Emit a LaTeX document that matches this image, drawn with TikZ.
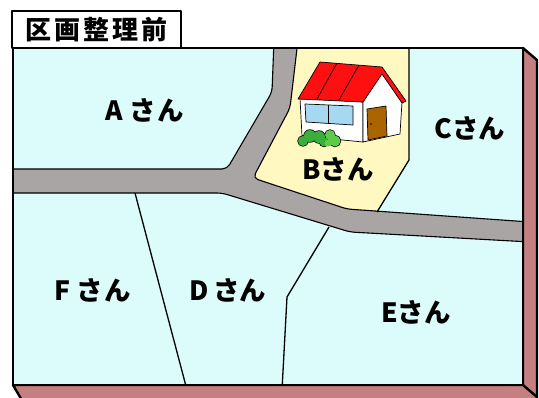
\documentclass[tikz,border=0pt]{standalone}
\usepackage{fontspec}
\usepackage{tikz}
\newfontfamily\jp{Noto Sans CJK JP}
\definecolor{lot}{HTML}{DCFCFC}
\definecolor{lotb}{HTML}{FFF8C0}
\definecolor{road}{HTML}{A9A5A5}
\definecolor{rim}{HTML}{C48080}
\definecolor{roof}{HTML}{FF1010}
\definecolor{glass}{HTML}{A6D8F2}
\definecolor{door}{HTML}{AA6400}
\definecolor{bush}{HTML}{3AAE3A}
\definecolor{bushl}{HTML}{5CCB4A}

\begin{document}
\begin{tikzpicture}[x=1pt,y=-1pt,line join=round,
  owner/.style={font=\jp\bfseries\fontsize{26.5}{26.5}\selectfont,inner sep=0pt},
  frame/.style={draw=black,line width=2.4pt},
  kerb/.style={draw=black,line width=1.1pt,rounded corners=5pt},
  plot/.style={draw=black,line width=1.3pt},
  thin/.style={draw=black,line width=0.7pt}]
  \useasboundingbox (0,0) rectangle (539,397);
  \begin{scope}
  \clip (0,0) rectangle (539,397);
  % board: thickness on the right and below
  \filldraw[fill=rim,frame] (13,385) -- (523,385) -- (523,48) -- (537,60)
    -- (537,409) -- (27,409) -- cycle;
  \draw[frame] (523,385) -- (537,397);
  \fill[lot] (13,48) rectangle (523,385);
  \begin{scope}
  \clip (13,48) rectangle (523,385);
  % lot B
  \fill[lotb] (298,40) -- (409,40) -- (409,160) -- (377,212) -- (347,209)
    -- (253,178) -- (290,108) -- cycle;
  % roads
  \fill[road,rounded corners=5pt] (5,169) -- (227,169) -- (272,92) -- (274,40) -- (298,40)
    -- (290,108) -- (253,178) -- (347,209) -- (530,222) -- (530,242)
    -- (350,232) -- (222,193) -- (5,193) -- cycle;
  \draw[kerb] (5,169) -- (227,169) -- (272,92) -- (274,40);
  \draw[kerb] (298,40) -- (290,108) -- (253,178) -- (347,209) -- (530,222);
  \draw[kerb] (5,193) -- (222,193) -- (350,232) -- (530,242);
  % lot boundaries
  \draw[plot] (409,40) -- (409,160) -- (377,212);
  \draw[plot] (135,193) -- (187,390);
  \draw[plot] (329,227) -- (287,297) -- (282,390);
  \end{scope}
  \draw[frame] (13,48) rectangle (523,385);
  \end{scope}
  % house on lot B
  \filldraw[fill=white,thin] (300,98) -- (363,102) -- (363,142) -- (302,136) -- cycle;
  \filldraw[fill=white,thin] (382,72) -- (402,102) -- (400,134) -- (363,142) -- (363,102) -- cycle;
  \filldraw[fill=glass,thin] (305,104) -- (353,106) -- (353,125) -- (306,122) -- cycle;
  \draw[thin] (328,105) -- (328,124);
  \filldraw[fill=door,thin] (367,109) -- (386,106) -- (387,136) -- (368,140) -- cycle;
  \fill[black] (371,124) circle (0.8);
  \filldraw[fill=roof,thin] (320,62) -- (382,67) -- (406,101) -- (402,103) -- (382,74)
    -- (363,102) -- (298,99) -- cycle;
  \draw[thin] (337,63) -- (317,99);
  \draw[thin] (359,65) -- (339,100);
  % bushes: outline first, fill on top so only the outer edge shows
  \draw[line width=1.4pt] (303,141) circle (5) (310,136) circle (6) (319,137) circle (6)
    (324,142) circle (4.5) (330,135) circle (5) (335,141) circle (5.5);
  \fill[bush] (303,141) circle (5) (310,136) circle (6) (319,137) circle (6)
    (324,142) circle (4.5);
  \fill[bushl] (330,135) circle (5) (335,141) circle (5.5) (328,143) circle (3.5);
  % title tab
  \filldraw[fill=white,frame] (12,11) rectangle (181,48);
  \node[owner,font=\jp\bfseries\fontsize{26}{26}\selectfont] (title) at (96.5,30)
    {区\kern3pt 画\kern3pt 整\kern3pt 理\kern3pt 前};
  % owners
  \node[owner] (a) at (145,110) {A\kern6pt さ\kern2pt ん};
  \node[owner] (b) at (338,169) {Bさん};
  \node[owner] (c) at (470,128) {Cさん};
  \node[owner] (d) at (228,290) {D\kern4pt さん};
  \node[owner] (e) at (416,312) {Eさん};
  \node[owner] (f) at (93,290) {F\kern6pt さ\kern2pt ん};
\end{tikzpicture}
\end{document}
